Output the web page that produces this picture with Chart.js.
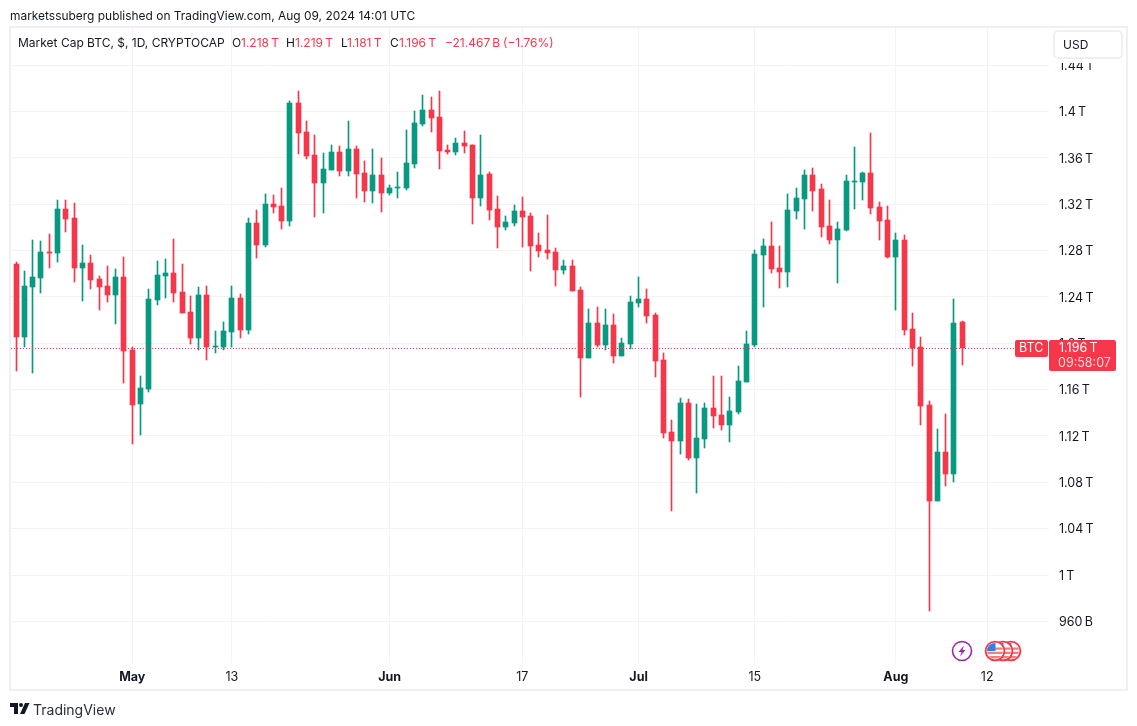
<!DOCTYPE html>
<html>
<head>
<meta charset="utf-8">
<title>Market Cap BTC</title>
<script src="https://cdn.jsdelivr.net/npm/chart.js@4"></script>
<style>
  html, body { margin: 0; padding: 0; background: #fff; }
  body { width: 1137px; height: 726px; position: relative; overflow: hidden; font-family: Inter, sans-serif; color: #131722; }
  canvas { position: absolute; left: 0; top: 0; }
  .txt { position: absolute; white-space: nowrap; }
  #published { left: 10px; top: 8px; font-size: 11.95px; line-height: 15px; }
  #legend { top: 35px; font-size: 12px; line-height: 15px; }
  #legend span { position: absolute; top: 0; }
  .red { color: #f63649; }
  #usd { left: 1053px; top: 30px; width: 66px; height: 25px; border: 2px solid #eef0f5; border-radius: 5px; background: #fff; box-shadow: 0 4px 0 #fff; font-size: 12px; line-height: 25px; text-indent: 8px; }
  #brand { left: 33px; top: 701px; font-size: 14px; line-height: 17px; color: #2a2e39; }
  svg { position: absolute; }
</style>
</head>
<body>
<canvas id="myChart" width="1137" height="726"></canvas>
<div class="txt" id="published">marketssuberg published on TradingView.com, Aug 09, 2024 14:01 UTC</div>
<div class="txt" id="legend">
  <span style="left:18px">Market Cap BTC, $, 1D, CRYPTOCAP</span>
  <span style="left:232px">O</span><span class="red" style="left:241px">1.218&#8201;T</span>
  <span style="left:286px">H</span><span class="red" style="left:295px">1.219&#8201;T</span>
  <span style="left:341px">L</span><span class="red" style="left:347px">1.181&#8201;T</span>
  <span style="left:390px">C</span><span class="red" style="left:399px">1.196&#8201;T</span>
  <span class="red" style="left:445px">−21.467&#8201;B</span>
  <span class="red" style="left:503px">(−1.76%)</span>
</div>
<div class="txt" id="usd">USD</div>
<svg style="left:950px;top:638px" width="80" height="26" viewBox="0 0 80 26">
  <circle cx="12" cy="13" r="9.5" fill="#fff" stroke="#9c27b0" stroke-width="1.6"/>
  <path d="M14 7.5 L8.5 14 H11.5 L10 18.5 L15.5 12 H12.5 Z" fill="#9c27b0"/>
  <g id="flags"></g>
</svg>
<svg style="left:10px;top:703px" width="20" height="12" viewBox="0 0 20 12">
  <path d="M0 0H8V11H4V4H0Z" fill="#131722"/>
  <circle cx="11" cy="2" r="2" fill="#131722"/>
  <path d="M15 0H19.5L14.5 11H10Z" fill="#131722"/>
</svg>
<div class="txt" id="brand">TradingView</div>
<script>
// OHLC, in trillions, Apr 16 -> Aug 9 2024
const opens = [1.2408,1.2684,1.2054,1.2485,1.2563,1.2787,1.2779,1.3159,1.3081,1.2649,1.2693,1.2554,1.2494,1.2416,1.2572,
  1.1942,1.1476,1.1605,1.2373,1.2580,1.2606,1.2442,1.2270,1.2045,1.2416,1.1968,1.1968,1.2097,1.2391,1.2114,1.3038,1.2848,1.3202,1.3184,1.3055,1.4073,1.3823,1.3625,1.3383,1.3495,1.3650,1.3487,1.3676,1.3469,1.3314,1.3452,
  1.3297,1.3340,1.3340,1.3547,1.3892,1.4013,1.3953,1.3668,1.3650,1.3728,1.3711,1.3254,1.3461,1.3159,1.3003,1.3038,1.3141,1.3098,1.2848,1.2805,1.2787,1.2632,1.2667,1.2460,1.1873,1.2175,1.1985,1.2158,1.1890,1.1994,
  1.2347,1.2382,1.2244,1.1855,1.1234,1.1156,1.1484,1.1010,1.1174,1.1441,1.1381,1.1295,1.1407,1.1666,1.1985,1.2762,1.2839,1.2649,1.2615,1.3141,1.3245,1.3452,1.3331,1.3012,1.2891,1.2977,1.3392,1.3392,1.3469,1.3176,1.3064,
  1.2744,1.2891,1.2123,1.1968,1.1467,1.0639,1.1061,1.0872,1.218];
const highs = [1.2632,1.2701,1.2624,1.2891,1.2882,1.2943,1.3236,1.3236,1.3210,1.2848,1.2762,1.2580,1.2667,1.2641,1.2744,
  1.1968,1.1717,1.2468,1.2710,1.2727,1.2900,1.2684,1.2408,1.2485,1.2494,1.2106,1.2183,1.2494,1.2425,1.3081,1.3150,1.3288,1.3279,1.3340,1.4091,1.4177,1.3918,1.3797,1.3642,1.3711,1.3702,1.3918,1.3702,1.3573,1.3676,1.3599,
  1.3366,1.3478,1.3840,1.4004,1.4142,1.4125,1.4177,1.3711,1.3771,1.3832,1.3711,1.3797,1.3478,1.3271,1.3098,1.3193,1.3262,1.3124,1.2951,1.3107,1.2822,1.2718,1.2718,1.2485,1.2296,1.2313,1.2296,1.2252,1.2045,1.2408,
  1.2572,1.2468,1.2261,1.1916,1.1338,1.1528,1.1519,1.1476,1.1484,1.1717,1.1717,1.1536,1.1804,1.2106,1.2805,1.2900,1.3046,1.2839,1.3288,1.3340,1.3495,1.3512,1.3374,1.3236,1.3046,1.3452,1.3694,1.3478,1.3814,1.3219,1.3184,
  1.2951,1.2934,1.2261,1.2054,1.1502,1.1260,1.1389,1.2382,1.219];
const lows = [1.2373,1.1761,1.1968,1.1743,1.2434,1.2649,1.2701,1.2960,1.2529,1.2365,1.2468,1.2287,1.2356,1.2166,1.1657,
  1.1131,1.1208,1.1579,1.2330,1.2391,1.2356,1.2261,1.1994,1.1942,1.1855,1.1916,1.1942,1.1968,1.2045,1.2080,1.2736,1.2831,1.3124,1.2986,1.3012,1.3633,1.3590,1.3090,1.3124,1.3495,1.3443,1.3443,1.3254,1.3219,1.3210,1.3133,
  1.3279,1.3254,1.3323,1.3512,1.3875,1.3823,1.3504,1.3633,1.3625,1.3642,1.3029,1.3184,1.3064,1.2822,1.2977,1.3012,1.2831,1.2624,1.2744,1.2727,1.2494,1.2598,1.2451,1.1536,1.1873,1.1968,1.1942,1.1830,1.1890,1.1950,
  1.2313,1.2175,1.1709,1.1182,1.0552,1.1044,1.0992,1.0708,1.1096,1.1269,1.1251,1.1148,1.1389,1.1666,1.1968,1.2313,1.2606,1.2477,1.2485,1.3072,1.2986,1.3141,1.2917,1.2857,1.2520,1.2969,1.3159,1.3236,1.3115,1.2891,1.2736,
  1.2287,1.2071,1.1804,1.1295,0.9689,1.0639,1.0768,1.0803,1.181];
const closes = [1.2563,1.2054,1.2494,1.2572,1.2787,1.2779,1.3159,1.3072,1.2649,1.2693,1.2546,1.2485,1.2416,1.2572,1.1933,
  1.1467,1.1614,1.2382,1.2589,1.2606,1.2434,1.2261,1.2045,1.2416,1.1968,1.1976,1.2106,1.2391,1.2114,1.3038,1.2848,1.3202,1.3176,1.3055,1.4073,1.3814,1.3616,1.3383,1.3504,1.3650,1.3487,1.3676,1.3461,1.3314,1.3452,1.3297,
  1.3340,1.3348,1.3556,1.3901,1.4013,1.3944,1.3659,1.3650,1.3728,1.3702,1.3254,1.3452,1.3150,1.3003,1.3046,1.3141,1.3090,1.2839,1.2796,1.2779,1.2632,1.2667,1.2451,1.1873,1.2175,1.1985,1.2158,1.1890,1.2002,1.2356,
  1.2382,1.2235,1.1847,1.1225,1.1156,1.1484,1.1010,1.1182,1.1441,1.1372,1.1295,1.1415,1.1674,1.1994,1.2770,1.2839,1.2641,1.2615,1.3150,1.3254,1.3452,1.3314,1.3003,1.2891,1.2986,1.3400,1.3400,1.3469,1.3167,1.3055,1.2744,
  1.2891,1.2114,1.1959,1.1458,1.0639,1.1061,1.0872,1.2175,1.196];

const firstDay = -15; // Apr 16, counted in days from May 1
const tickDays = [0, 12, 31, 47, 61, 75, 92, 103];
const tickLabels = ["May", "13", "Jun", "17", "Jul", "15", "Aug", "12"];
const priceTicks = [0.96, 1, 1.04, 1.08, 1.12, 1.16, 1.2, 1.24, 1.28, 1.32, 1.36, 1.4, 1.44];
const priceLabels = ["960\u2009B", "1\u2009T", "1.04\u2009T", "1.08\u2009T", "1.12\u2009T", "1.16\u2009T", "1.2\u2009T", "1.24\u2009T", "1.28\u2009T", "1.32\u2009T", "1.36\u2009T", "1.4\u2009T", "1.44\u2009T"];
const lastPrice = 1.196;
const lastPriceText = "1.196\u2009T";
const countdown = "09:58:07";
const symbol = "BTC";

const UP = "#089981";
const DOWN = "#f63649";
const GRID = "#f2f3f6";
const FRAME = "#eef0f5";
const colors = opens.map((o, i) => (closes[i] >= o ? UP : DOWN));

// the flag icons on the time scale, stripes clipped to each ring
const flagsGroup = document.getElementById("flags");
let flagsSvg = "";
[61, 53, 45].forEach(function (cx) {
  flagsSvg +=
    '<clipPath id="flag' + cx + '"><circle cx="' + cx + '" cy="13" r="8"/></clipPath>' +
    '<circle cx="' + cx + '" cy="13" r="9.4" fill="#fff" stroke="#f63649" stroke-width="1.8"/>' +
    '<g clip-path="url(#flag' + cx + ')">' +
    '<path d="M' + (cx - 8) + ' 5h16v16h-16z" fill="#fff"/>' +
    '<path d="M' + (cx - 8) + ' 9.5h16v2.2h-16zM' + (cx - 8) + ' 13.8h16v2.2h-16zM' + (cx - 8) + ' 18h16v2.5h-16z" fill="#f77c80"/>' +
    '<path d="M' + (cx - 8) + ' 5h8.5v8h-8.5z" fill="#2f80ed"/>' +
    "</g>";
});
flagsGroup.innerHTML = flagsSvg;

// frame, last price line and tags, candles snapped to whole pixels
const chartDecor = {
  id: "chartDecor",
  beforeDraw(chart) {
    const c = chart.ctx;
    c.save();
    c.strokeStyle = FRAME;
    c.lineWidth = 2;
    c.strokeRect(10, 27, 1117, 663);
    c.restore();
  },
  beforeDatasetsDraw(chart) {
    chart.getSortedVisibleDatasetMetas().forEach((meta) => {
      meta.data.forEach((bar) => {
        bar.x = Math.floor(bar.x) + 0.5;
        bar.y = Math.round(bar.y);
        bar.base = Math.round(bar.base);
        if (bar.y === bar.base) bar.y -= 1;
      });
    });
  },
  afterDatasetsDraw(chart) {
    const c = chart.ctx;
    const y = Math.round(chart.scales.y.getPixelForValue(lastPrice)) + 0.5;
    c.save();
    c.strokeStyle = DOWN;
    c.lineWidth = 1;
    c.setLineDash([1, 2]);
    c.beginPath();
    c.moveTo(chart.chartArea.left, y);
    c.lineTo(1015, y);
    c.stroke();
    c.restore();
  },
  afterDraw(chart) {
    const c = chart.ctx;
    const y = Math.round(chart.scales.y.getPixelForValue(lastPrice));
    c.save();
    c.fillStyle = DOWN;
    c.beginPath();
    c.roundRect(1015, y - 8, 33, 17, 2);
    c.fill();
    c.beginPath();
    c.roundRect(1049, y - 8, 67, 31, 2);
    c.fill();
    c.font = "12.5px Inter";
    c.textBaseline = "middle";
    c.fillStyle = "#fff";
    c.fillText(symbol, 1019, y + 0.5);
    c.fillText(lastPriceText, 1059, y + 0.5);
    c.fillStyle = "rgba(255,255,255,0.8)";
    c.fillText(countdown, 1058, y + 15);
    c.restore();
  }
};

const ctx = document.getElementById("myChart");
Chart.defaults.font.family = "Inter";
Chart.defaults.animation = false;

new Chart(ctx, {
  type: "bar",
  data: {
    datasets: [
      {
        data: opens.map((o, i) => ({ x: firstDay + i, y: [o, closes[i]] })),
        backgroundColor: colors,
        barThickness: 5,
        grouped: false,
        order: 1
      },
      {
        data: opens.map((o, i) => ({ x: firstDay + i, y: [lows[i], highs[i]] })),
        backgroundColor: colors,
        barThickness: 1,
        grouped: false,
        order: 2
      }
    ]
  },
  options: {
    responsive: false,
    events: [],
    layout: { padding: { left: 11, right: 11, top: 28, bottom: 37 } },
    plugins: { legend: { display: false }, tooltip: { enabled: false } },
    scales: {
      x: {
        type: "linear",
        offset: false,
        min: -14.61,
        max: 110.45,
        border: { display: false },
        grid: { color: GRID, drawTicks: false, offset: false },
        afterBuildTicks: (scale) => { scale.ticks = tickDays.map((v) => ({ value: v })); },
        afterFit: (scale) => { scale.height = 26; },
        ticks: {
          autoSkip: false,
          maxRotation: 0,
          padding: 7,
          color: "#131722",
          font: (c) => ({ size: 12.5, weight: tickLabels[c.index] && isNaN(tickLabels[c.index]) ? "bold" : "normal" }),
          callback: (v, i) => tickLabels[i]
        }
      },
      y: {
        position: "right",
        min: 0.9241,
        max: 1.472,
        border: { display: false },
        grid: { color: GRID, drawTicks: false },
        afterBuildTicks: (scale) => { scale.ticks = priceTicks.map((v) => ({ value: v })); },
        afterFit: (scale) => { scale.width = 77; },
        ticks: {
          autoSkip: false,
          padding: 10,
          labelOffset: 1,
          color: "#131722",
          font: { size: 12.5 },
          callback: (v, i) => priceLabels[i]
        }
      }
    }
  },
  plugins: [chartDecor]
});
</script>
</body>
</html>
